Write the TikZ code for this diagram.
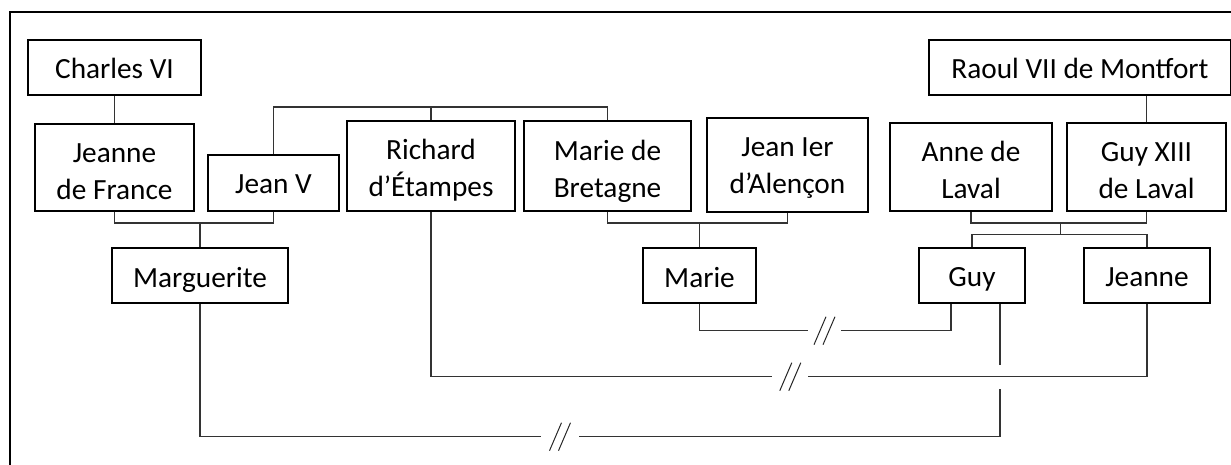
\documentclass[tikz,border=0pt]{standalone}
\usepackage{fontspec}
\setmainfont{Carlito}
\newcommand\up{\rule{0pt}{39pt}}
\newcommand\dn[1]{\rule[-#1pt]{0pt}{#1pt}}

\begin{document}
\begin{tikzpicture}[x=1pt,y=-1pt,
  person/.style={draw,line width=2pt,align=center,inner sep=0pt,font=\fontsize{29.3}{36.5}\selectfont},
  link/.style={draw=black!80,line width=1.2pt},
  cut/.style={draw=black!85,line width=1pt}]
\clip (0,0) rectangle (1231,465);
\draw[line width=1.7pt] (10,12) rectangle (1260,490);
\node[person,minimum width=173pt] (charles) at (114.5,67.5) {\up Charles VI\dn{16}};
\node[person,minimum width=302pt] (raoul) at (1080,67.5) {\up Raoul VII de Montfort\dn{16}};
\node[person,minimum width=159pt] (jeannefr) at (114.5,167.5) {\up Jeanne\\de France\dn{11.5}};
\node[person,minimum width=131pt] (jeanv) at (273.5,183) {\up Jean V\dn{17}};
\node[person,minimum width=168pt] (richard) at (431,166) {\up Richard\\d’Étampes\dn{14.5}};
\node[person,minimum width=167pt] (mariebr) at (607.5,166.5) {\up Marie de\\Bretagne\dn{14.5}};
\node[person,minimum width=161pt] (jeanier) at (787.5,165) {\up Jean Ier\\d’Alençon\dn{18.5}};
\node[person,minimum width=162pt] (anne) at (971,167) {\up Anne de\\Laval\dn{12.5}};
\node[person,minimum width=159pt] (guyxiii) at (1146.5,167) {\up Guy XIII\\de Laval\dn{12.5}};
\node[person,minimum width=176pt] (marguerite) at (200,275.5) {\up Marguerite\dn{16}};
\node[person,minimum width=113pt] (marie) at (699.5,275.5) {\up Marie\dn{16}};
\node[person,minimum width=106pt] (guy) at (972,275) {\up Guy\dn{16}};
\node[person,minimum width=126pt] (jeanne) at (1147,275) {\up Jeanne\dn{16}};
\coordinate (bar) at (0,107);
\coordinate (wed) at (0,223);
\coordinate (kids) at (1060.7,234.3);
\coordinate (g1l) at (808,330.7);
\coordinate (g1r) at (841,330.7);
\coordinate (g2l) at (772.3,376.7);
\coordinate (g2r) at (808.3,376.7);
\coordinate (g3l) at (541,436.7);
\coordinate (g3r) at (579,436.7);
\coordinate (hopt) at (1000,365);
\coordinate (hopb) at (1000,389);
\draw[link] (charles) -- (jeannefr);
\draw[link] (guyxiii.north) -- (guyxiii.north |- raoul.south);
\draw[link] (jeanv.north) |- (richard.north |- bar) -| (mariebr.north);
\draw[link] (richard.north) -- (richard.north |- bar);
\draw[link] (jeannefr.south) |- (jeanv.south |- wed) -- (jeanv.south);
\draw[link] (marguerite.north) -- (marguerite.north |- wed);
\draw[link] (mariebr.south) |- (jeanier.south |- wed) -- (jeanier.south);
\draw[link] (marie.north) -- (marie.north |- wed);
\draw[link] (anne.south) |- (guyxiii.south |- wed) -- (guyxiii.south);
\draw[link] (kids |- wed) -- (kids);
\draw[link] (guy.north) |- (kids) -| (jeanne.north);
\draw[link] (marie.south) |- (g1l);
\draw[link] (g1r) -| ([xshift=-21pt]guy.south);
\draw[link] (richard.south) |- (g2l);
\draw[link] (g2r) -| (jeanne.south);
\draw[link] (marguerite.south) |- (g3l);
\draw[link] (g3r) -| (hopb);
\draw[link] (hopt) -- (hopt |- guy.south);
\foreach \x/\y in {824.5/330.7,790.3/376.7,560/436.7}
  \draw[cut] (\x-10.5,\y+14) -- (\x+1.5,\y-14) (\x-1.5,\y+14) -- (\x+10.5,\y-14);
\end{tikzpicture}
\end{document}
